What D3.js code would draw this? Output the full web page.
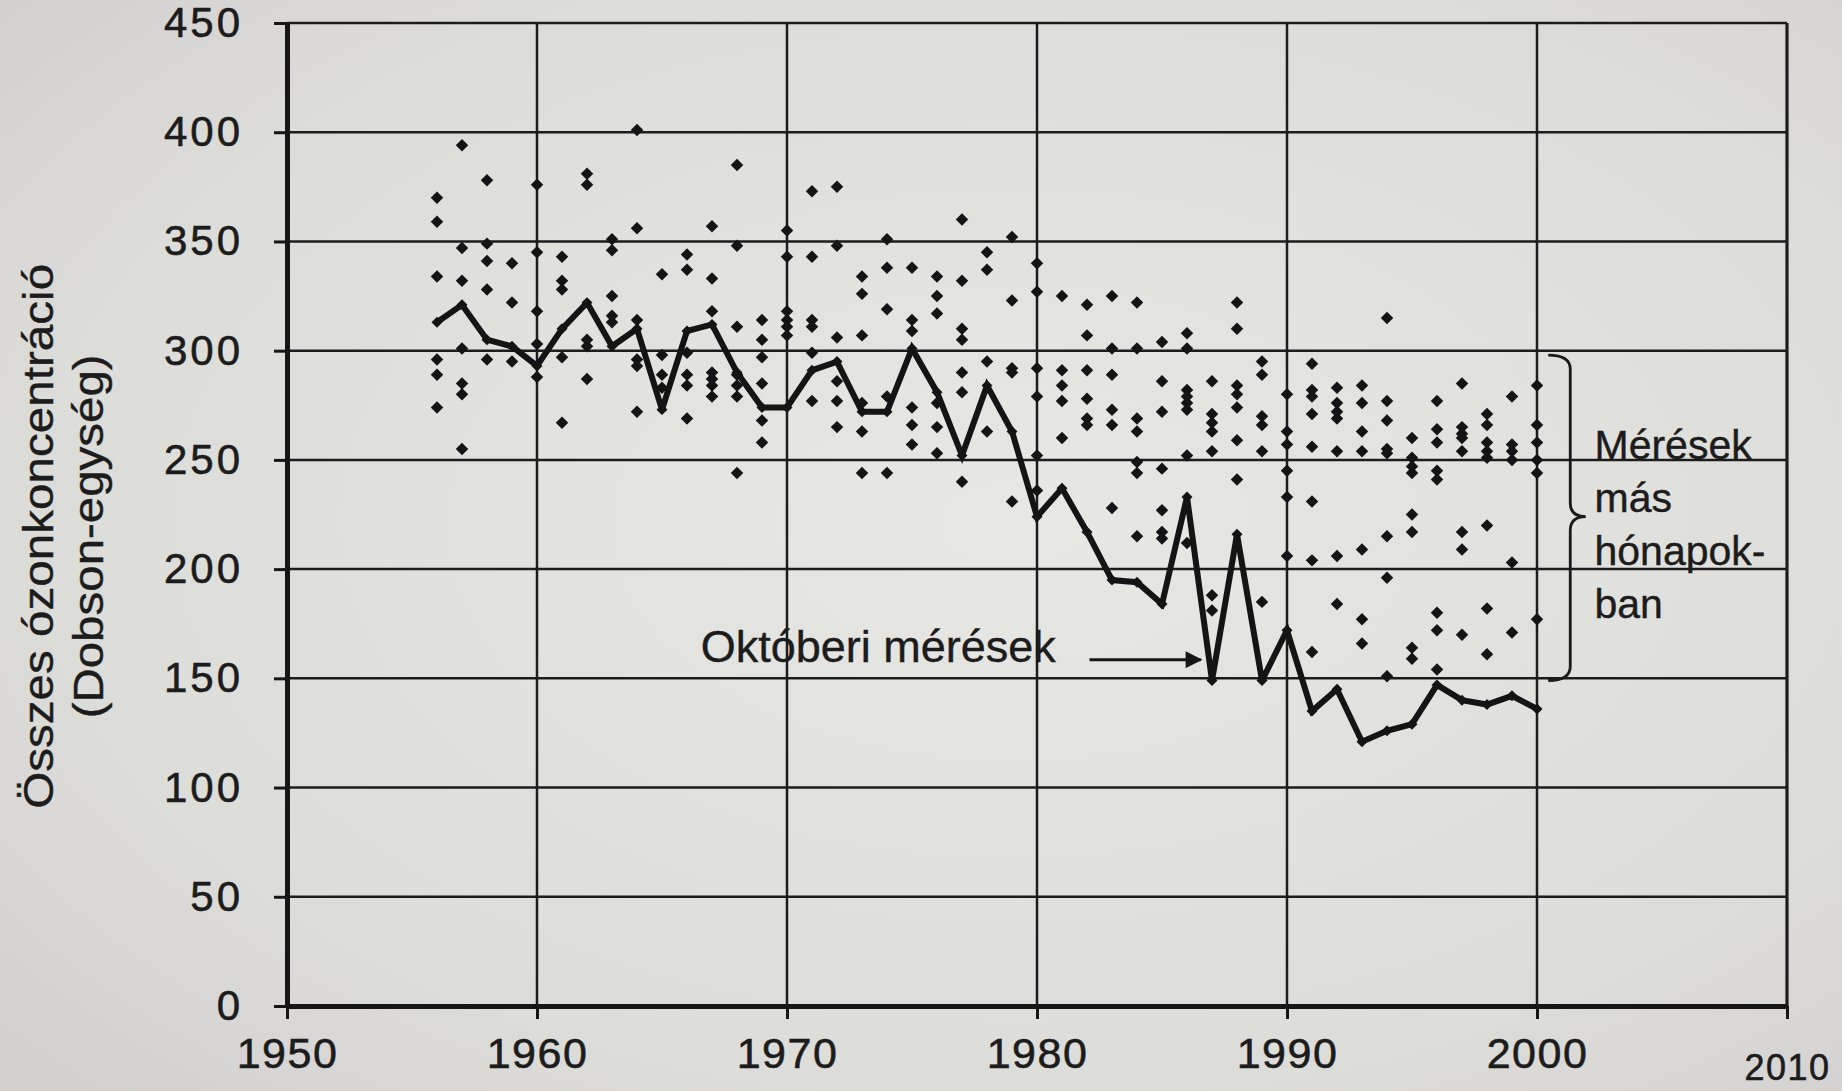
<!DOCTYPE html>
<meta charset="utf-8">
<script src="https://cdn.jsdelivr.net/npm/d3@7"></script>
<style>

body {
  margin: 0;
  background: #dcdbd9;
}

svg {
  display: block;
}

text {
  font-family: "Liberation Sans", Arial, sans-serif;
  fill: #1c1c1c;
}

.grid line {
  stroke: #1c1c1c;
  stroke-width: 2.5px;
}

.axis path,
.axis line {
  stroke: #161616;
}

.axis path {
  stroke-width: 5px;
}

.axis line {
  stroke-width: 3px;
}

.axis text {
  font-size: 42px;
  stroke: #1c1c1c;
  stroke-width: 0.6px;
}

path.october {
  fill: none;
  stroke: #141414;
  stroke-width: 6px;
  stroke-linejoin: miter;
  stroke-miterlimit: 3;
}

path.pt {
  fill: #141414;
}

</style>
<body>
<script>

// years of the October series and of the other-month columns
var years = [1956, 1957, 1958, 1959, 1960, 1961, 1962, 1963, 1964, 1965,
             1966, 1967, 1968, 1969, 1970, 1971, 1972, 1973, 1974, 1975,
             1976, 1977, 1978, 1979, 1980, 1981, 1982, 1983, 1984, 1985,
             1986, 1987, 1988, 1989, 1990, 1991, 1992, 1993, 1994, 1995,
             1996, 1997, 1998, 1999, 2000];

// October totals (Dobson units)
var octoberValues = [313, 321, 305, 302, 293, 310, 322, 302, 310, 273,
                     309, 312, 290, 274, 274, 291, 295, 272, 272, 301,
                     281, 252, 284, 263, 224, 237, 217, 195, 194, 184,
                     233, 149, 216, 149, 172, 135, 145, 121, 126, 129,
                     147, 140, 138, 142, 136];

// measurements in other months, one list per year
var otherMonths = [
  [370, 359, 334, 296, 289, 274],
  [394, 347, 332, 301, 285, 280, 255],
  [378, 349, 341, 328, 296],
  [340, 322, 295],
  [376, 345, 318, 303, 288],
  [343, 332, 328, 297, 267],
  [381, 376, 305, 302, 287],
  [351, 346, 325, 316, 313],
  [401, 356, 314, 296, 293, 272],
  [335, 298, 289, 283],
  [344, 337, 299, 289, 284, 269],
  [357, 333, 318, 290, 287, 284, 279],
  [385, 348, 311, 289, 284, 279, 244],
  [314, 305, 297, 285, 268, 258],
  [355, 343, 318, 314, 311, 307],
  [373, 343, 314, 311, 299, 277],
  [375, 348, 306, 286, 277, 265],
  [334, 326, 307, 276, 263, 244],
  [351, 338, 319, 279, 244],
  [338, 314, 309, 274, 266, 257],
  [334, 325, 317, 276, 265, 253],
  [360, 332, 310, 305, 290, 281, 240],
  [345, 337, 295, 263],
  [352, 323, 292, 290, 231],
  [340, 327, 292, 279, 252, 236],
  [325, 291, 284, 277, 260],
  [321, 307, 291, 278, 269, 266],
  [325, 301, 289, 273, 266, 228],
  [322, 301, 269, 263, 249, 244, 215],
  [304, 286, 272, 246, 227, 217, 214],
  [308, 301, 282, 279, 276, 273, 252, 212],
  [286, 271, 267, 263, 254, 188, 181],
  [322, 310, 284, 280, 274, 259, 241],
  [295, 289, 270, 266, 254, 185],
  [280, 263, 257, 245, 233, 206],
  [294, 282, 279, 271, 256, 231, 204, 162],
  [283, 276, 272, 269, 254, 206, 184],
  [284, 276, 263, 254, 209, 177, 166],
  [315, 277, 268, 255, 253, 215, 196, 151],
  [260, 251, 247, 244, 225, 217, 164, 159],
  [277, 264, 258, 245, 241, 180, 172, 154],
  [285, 265, 262, 260, 254, 217, 209, 170],
  [271, 266, 258, 254, 251, 220, 182, 161],
  [279, 257, 254, 250, 203, 171],
  [284, 266, 258, 250, 244, 177]
];

var xTicks = [1950, 1960, 1970, 1980, 1990, 2000, 2010];
var yTicks = [0, 50, 100, 150, 200, 250, 300, 350, 400, 450];

var yTitle = ["Összes ózonkoncentráció", "(Dobson-egység)"];
var octoberLabel = "Októberi mérések";
var otherLabel = ["Mérések", "más", "hónapok-", "ban"];

var width = 1842,
    height = 1091;

var x = d3.scaleLinear().domain([1950, 2010]).range([287, 1787]);
var y = d3.scaleLinear().domain([0, 450]).range([1006, 23]);

var svg = d3.select("body").append("svg")
    .attr("width", width)
    .attr("height", height);

// paper background
var defs = svg.append("defs");
var grad = defs.append("radialGradient")
    .attr("id", "paper")
    .attr("cx", "55%").attr("cy", "48%").attr("r", "75%");
grad.append("stop").attr("offset", "0%").attr("stop-color", "#e7e7e4");
grad.append("stop").attr("offset", "70%").attr("stop-color", "#dcdcd9");
grad.append("stop").attr("offset", "100%").attr("stop-color", "#d2cfce");

defs.append("marker")
    .attr("id", "arrow")
    .attr("viewBox", "0 0 10 10")
    .attr("refX", 9).attr("refY", 5)
    .attr("markerWidth", 7).attr("markerHeight", 6)
    .attr("markerUnits", "strokeWidth")
    .attr("orient", "auto")
  .append("path")
    .attr("d", "M0,0 L10,5 L0,10 z")
    .style("fill", "#161616");

svg.append("rect")
    .attr("width", width)
    .attr("height", height)
    .style("fill", "url(#paper)");

// grid
var grid = svg.append("g").attr("class", "grid");

grid.selectAll("line.h")
    .data(yTicks.filter(function(d) { return d > 0; }))
    .enter().append("line")
    .attr("class", "h")
    .attr("x1", x(1950)).attr("x2", x(2010))
    .attr("y1", function(d) { return y(d); })
    .attr("y2", function(d) { return y(d); });

grid.selectAll("line.v")
    .data(xTicks.filter(function(d) { return d > 1950; }))
    .enter().append("line")
    .attr("class", "v")
    .attr("y1", y(0)).attr("y2", y(450))
    .attr("x1", function(d) { return x(d); })
    .attr("x2", function(d) { return x(d); })
    .style("stroke-width", function(d) { return d == 2010 ? 3.2 : 2.5; });

// axes
svg.append("g")
    .attr("class", "axis")
    .attr("transform", "translate(" + x(1950) + ",0)")
    .call(d3.axisLeft(y).tickValues(yTicks).tickSize(13).tickSizeOuter(0).tickPadding(31))
    .selectAll("text")
    .style("letter-spacing", "3px");

svg.append("g")
    .attr("class", "axis")
    .attr("transform", "translate(0," + y(0) + ")")
    .call(d3.axisBottom(x).tickValues(xTicks).tickSize(13).tickSizeOuter(0).tickPadding(18)
      .tickFormat(d3.format("d")))
    .selectAll("text")
    .style("letter-spacing", "1.5px")
    .style("font-size", function(d) { return d == 2010 ? "36px" : "43px"; })
    .attr("dy", function(d) { return d == 2010 ? "1.2em" : "0.71em"; });

// other months scatter
var pts = [];
years.forEach(function(yr, i) {
  otherMonths[i].forEach(function(v) {
    pts.push({year: yr, value: v});
  });
});

svg.append("g")
    .selectAll("path.pt")
    .data(pts)
    .enter().append("path")
    .attr("class", "pt")
    .attr("transform", function(d) {
      return "translate(" + x(d.year) + "," + y(d.value) + ") rotate(45)";
    })
    .attr("d", d3.symbol(d3.symbolSquare, 78));

// october line
var october = years.map(function(yr, i) { return {year: yr, value: octoberValues[i]}; });

svg.append("path")
    .datum(october)
    .attr("class", "october")
    .attr("d", d3.line()
      .x(function(d) { return x(d.year); })
      .y(function(d) { return y(d.value); }));

svg.append("g")
    .selectAll("path.pt")
    .data(october)
    .enter().append("path")
    .attr("class", "pt")
    .attr("transform", function(d) {
      return "translate(" + x(d.year) + "," + y(d.value) + ") rotate(45)";
    })
    .attr("d", d3.symbol(d3.symbolSquare, 60));

// y title
svg.append("g")
    .selectAll("text.ytitle")
    .data(yTitle)
    .enter().append("text")
    .attr("class", "ytitle")
    .attr("transform", function(d, i) {
      return "translate(" + (i == 0 ? 53 : 103) + "," + y(215) + ") rotate(-90)";
    })
    .attr("text-anchor", "middle")
    .attr("textLength", function(d, i) { return i == 0 ? 545 : 364; })
    .attr("lengthAdjust", "spacingAndGlyphs")
    .style("font-size", "42px")
    .style("stroke", "#1c1c1c")
    .style("stroke-width", 0.4)
    .text(function(d) { return d; });

// october annotation + arrow
svg.append("text")
    .attr("x", x(1966.55))
    .attr("y", y(157.5))
    .style("font-size", "45px")
    .style("stroke", "#1c1c1c")
    .style("stroke-width", 0.4)
    .text(octoberLabel);

svg.append("line")
    .attr("x1", x(1982.1)).attr("y1", y(158.5))
    .attr("x2", x(1986.55)).attr("y2", y(158.5))
    .style("stroke", "#161616")
    .style("stroke-width", 2.8)
    .attr("marker-end", "url(#arrow)");

// brace round the other-month measurements
var bx0 = x(2000.45), bx = x(2001.33), btip = x(2001.95);
var bt = y(298), bm = y(224), bb = y(149), r = 14;

svg.append("path")
    .attr("d", "M" + bx0 + "," + bt +
               "Q" + bx + "," + bt + " " + bx + "," + (bt + r) +
               "L" + bx + "," + (bm - r) +
               "Q" + bx + "," + bm + " " + btip + "," + bm +
               "Q" + bx + "," + bm + " " + bx + "," + (bm + r) +
               "L" + bx + "," + (bb - r) +
               "Q" + bx + "," + bb + " " + bx0 + "," + bb)
    .style("fill", "none")
    .style("stroke", "#1a1a1a")
    .style("stroke-width", 2.8);

svg.append("g")
    .selectAll("text.other")
    .data(otherLabel)
    .enter().append("text")
    .attr("class", "other")
    .attr("x", x(2002.3))
    .attr("y", function(d, i) { return y(250.5) + i * 53; })
    .style("font-size", "41px")
    .style("stroke", "#1c1c1c")
    .style("stroke-width", 0.4)
    .text(function(d) { return d; });

</script>
</body>
